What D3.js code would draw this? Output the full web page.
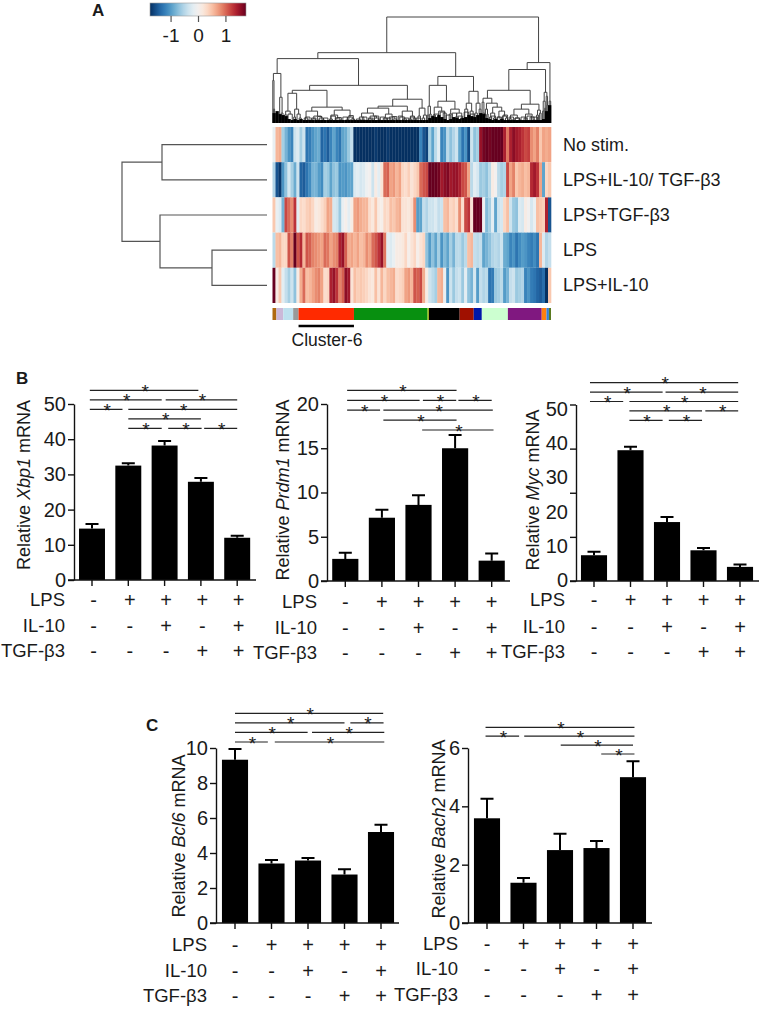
<!DOCTYPE html>
<html>
<head>
<meta charset="utf-8">
<script src="https://cdnjs.cloudflare.com/ajax/libs/d3/7.8.5/d3.min.js"></script>
<style>
  body { margin: 0; background: #fff; }
  text { font-family: "Liberation Sans", Arial, sans-serif; fill: #1a1a1a; }
</style>
</head>
<body>
<svg id="chart" width="761" height="1009"></svg>
<script>
// ---- heatmap values
const rowNames = ['No stim.', 'LPS+IL-10/ TGF-\u03b23', 'LPS+TGF-\u03b23', 'LPS', 'LPS+IL-10'];
const noStim = [-0.1,0.5,0.55,-0.5,-0.7,-0.9,-1,-0.3,-0.2,-0.5,-0.3,-1.1,-1.05,-0.9,-0.8,-0.75,-1.2,-1.1,-1.25,-1,-0.8,-1,-1.1,-0.8,-0.75,-0.55,-0.35,-1.6,-1.75,-1.7,-1.65,
  -1.6,-1.5,-1.6,-1.45,-1.65,-1.55,-1.7,-1.45,-1.65,-1.5,-1.65,-1.7,-1.75,-1.7,-1.65,-1.75,-1.7,-1.65,-1,-1.3,-1.4,-0.5,-0.8,-0.4,-0.15,-1,-0.9,-0.4,-0.6,-0.45,-0.3,
  -0.8,-1.1,-0.9,-1.35,-0.3,-0.6,-0.5,1.3,1.45,1.55,1.45,1.7,1.75,1.7,1.65,1.2,0.8,1.2,1.35,1.25,1.2,1.1,1,1.05,0.7,0.6,0.75,0.4,0.6,0.55,0.6];
const lpsIl10Tgf = [-0.45,-1.3,-1.45,-0.9,-0.6,-0.25,-0.5,-0.75,-0.3,-1.2,-1.25,-1.1,-0.95,-0.7,-0.7,-0.85,-0.95,-0.5,-0.55,-0.8,-0.6,-0.55,-0.9,-0.85,-0.9,-0.8,-0.8,-0.2,-0.15,-0.25,-0.2,
  -0.05,0,-0.3,0.1,-0.15,0.2,0.85,0.9,0.6,0.65,0.5,0.6,0.3,0.25,0.35,0.2,0.3,0.4,0.85,0.95,1,1.5,1.7,1.55,1.45,1.25,1.35,1.4,1.25,1.3,1.3,
  1.2,1,0.95,0.6,-0.4,-0.15,-0.25,-0.55,-0.5,-0.6,-0.4,0.1,0,-0.4,-0.5,-0.45,1,0.6,0.75,0.4,0.5,0.55,0.45,0.5,1.15,1.25,1.1,0.6,-0.8,0.3,0.4];
const lpsTgf = [0.4,-0.1,-0.2,-0.7,1,0.85,0.7,1.1,-0.15,0.3,0.25,0.35,0.4,0.3,0.1,0.15,0.25,0.35,0.6,0.55,-0.25,-0.3,-0.55,-0.1,0.05,-0.15,0.1,0.6,0.65,0.55,0.5,
  0.5,0.25,0.15,0.4,0.1,0.05,0.3,0.25,0.45,0.4,0.5,0.55,0.2,0.2,0.15,0.25,0.7,-0.85,-0.8,-0.35,-0.45,-0.3,-0.3,-0.2,-0.35,-0.3,0.45,0.5,0.3,0.35,0.25,
  0.7,0.25,1,1.1,0.2,1.7,1.75,1.7,-0.05,-0.65,-0.5,-0.15,-0.8,-0.3,-0.25,0.3,0.45,-0.3,-0.55,-0.6,-0.2,-0.25,0.1,0,-0.25,-0.1,0.45,0.4,0.35,1.2,-1.3];
const lpsOnly = [-0.4,0.45,0.5,0.3,0.3,0.95,0.75,1.65,0.95,1.15,0.5,0.95,0.9,0.75,0.7,0.65,0.6,0.85,0.8,0.6,0.7,0.75,1.2,1.3,0.9,0.55,0.6,0.5,0.6,0.45,0.5,
  0.7,0.6,0.85,0.95,1.1,1.3,0.8,-0.15,-0.2,-0.1,0.1,0.1,0.15,0.3,0.05,0.2,0.3,0.05,0.2,0.3,-0.6,-0.85,-0.6,-0.8,-0.5,-0.9,-0.65,-0.8,-0.5,-0.7,-0.4,
  -0.4,-0.55,-0.4,0.45,0.5,-0.35,-0.4,-0.35,-0.8,-0.7,-0.6,-0.45,-0.4,-0.45,-0.3,-0.75,-0.8,-1,-0.9,-1.1,-0.95,-0.85,-0.9,-1,-1.05,-0.95,-1.1,0.5,-0.2,-0.45,-0.35];
const lpsIl10 = [1.6,0.1,0.4,-0.15,-0.35,-0.5,-0.3,-0.6,0.1,0.55,0.85,0.45,0.5,0.6,0.7,0.75,0.6,0.25,0.3,1.2,1.3,1.1,0.75,0.9,1.35,1.25,0.2,0.45,0.35,0.4,0.35,
  0.3,0.2,0.15,0.45,0.2,0.5,0.3,0.45,0.5,0.55,0.25,0.3,0.35,0.6,0.65,0.5,0.95,0.9,1,0.55,0.1,-0.3,-0.4,-0.5,0.5,0.55,-0.1,-0.9,-0.3,-0.55,-0.35,
  -0.3,-0.55,-0.15,-0.6,-0.7,-0.25,-0.85,-0.35,-0.45,-0.4,-1.1,-1.05,-0.55,-0.5,-0.4,-0.85,-0.7,-0.35,-0.3,-0.55,-0.5,-0.45,-1,-0.9,-1.05,-1.1,-1.2,-1.25,-1.15,-1.55,0.4];
const heatRows = [noStim, lpsIl10Tgf, lpsTgf, lpsOnly, lpsIl10];

// cluster strip under the heatmap, widths in columns
const clusterSizes = [1.3,2.3,3.3,1.8,18.5,24.6,0.4,10.3,4.7,2.7,8.7,11.3,1.6,0.8,0.7];
const clusterColors = ['#b06a10','#cbb8d8','#bde0ee','#999999','#ff2a00','#089010','#b0d000','#000000','#a01000','#0018a8','#ccffd0','#801880','#ff8010','#3080e0','#5a7a20'];

// dendrograms: [height, child, child], a bare number is a leaf position
const rowTree = [145, [105, 0, 1], [107, 2, [55, 3, 4]]];
const colTree = [107,
  [71,
    [65,
      [50, [43, 0.1, [14, 0.3, 0.7]], [26, 2.4, [10, 2.9, 3.5]]],
      [38,
        [33,
          [30, [12, [8, 3.9, 4.9], [9, 5.2, 6.6]], [14, [6, 7.1, 7.7], [9, 8.2, [5, 8.9, 9.6]]]],
          [16,
            [12, [5, 10.6, [3, 11.4, 12.2]], [7, [4, 13.2, 14.4], [5, [3, 15.2, 16], [3, 16.6, 17.4]]]],
            [13, [8, [4, 19, 20], [5, 21, [3, 22, 23]]], [6, [3, 24.4, 25.6], [4, 26.2, 27.4]]]]],
        [24,
          [17,
            [15, [10, [6, 29, [3, 30, 31]], [7, [4, 32, 33.2], [5, 34, [3, 35, 36]]]], [9, [5, 37, 38.4], [6, 39, [4, 40.2, 41.5]]]],
            [12, [6, 42.5, [4, 43.5, 44.8]], [7, [4, 45.6, 46.5], [5, 47, 47.8]]]],
          [15, [7, 48.6, 49.4], [8, [5, 50, 50.8], 51.4]]]]],
    [47,
      [38,
        [17, [8, 51.7, 52.2], [9, 52.5, 53]],
        [22,
          [16, [8, 53.6, 54.4], [12, [6, 55, 56], [10, 57, 58]]],
          [14, [9, 59, 60], [10, [6, 61, 62], [5, 62.8, 63.6]]]]],
      [32,
        [20, [14, 64.2, 65.2], [12, 66, 67]],
        [20, [10, 67.6, 68.4], [14, 69, 69.6]]]]],
  [61,
    [54,
      [33,
        [25,
          [21, [9, 69.8, 70.2], [10, 70.4, 70.8]],
          [20, [14, [8, 70.9, 71.3], [9, 71.6, 72]], [16, [10, [6, 72.5, 73.2], [5, 73.8, 74.6]], [12, [6, 75.2, 76], [7, [4, 76.5, 77.2], [5, 77.8, 78.5]]]]]],
        [19,
          [14, [8, [4, 79, 80], [5, 81, [3, 82, 83]]], [9, [5, 84, 85], [6, 86, [3, 87, 87.8]]]],
          [13, [8, 88.2, 88.8], [10, 89.2, 89.7]]]],
      [31, [22, [12, 90.2, 90.6], [15, 90.9, 91.2]], [27, 91.4, [18, 91.7, 92]]]],
    [22, 92.4, 92.9]]];
// height of the solid black leaf comb per column
const leafComb = [10,12,9,8,7,4,3,4,3,4,3,3,3,3,3,3,3,3,3,3,3,3,3,3,3,3,3,3,3,3,3,3,3,3,3,3,3,3,3,3,3,3,3,3,3,3,3,3,3,3,3,3,
  5,7,6,8,6,4,3,4,6,5,4,5,6,8,7,6,8,10,9,5,4,3,4,3,4,3,3,3,3,3,3,3,3,3,3,3,3,3,4,12,18];
// small arches just above the comb: [from column, to column, height]
const lowArches = [[11,12.5,6],[13,14.5,5],[15,16.5,6.5],[17,18.5,5],[19.5,21,7],[21.5,23,5.5],[23.5,25,6],[25.5,27,7.5],[28,29.5,4],[30,31.5,6],[32,33.5,5],[34,35.5,7],[36,37.5,6],[38,39.5,5],[40,41.5,6.5],[42,43.5,7],[44,45.5,5],[46,47.5,6],[48,49.5,5],
  [54,55.5,9],[56,57.5,11],[58,59.5,8],[60,61.5,10],[62,63.5,7],[64,65.5,11],[66,67.5,9],[73,74.5,7],[75,76.5,6],[77,78.5,8],[79,80.5,6],[81,82.5,5],[83,84.5,6],[85,86.5,7],[87,88.5,6]];

const scaleTicks = [-1, 0, 1];

// ---- bar charts
const lpsSigns = ['-', '+', '+', '+', '+'];
const il10Signs = ['-', '-', '+', '-', '+'];
const tgfSigns = ['-', '-', '-', '+', '+'];
const signRowNames = ['LPS', 'IL-10', 'TGF-\u03b23'];

const xbp1Values = [14.6, 32.5, 38.2, 27.9, 12.0];
const xbp1Errors = [1.3, 0.7, 1.3, 1.1, 0.6];
const xbp1Ticks = [0, 10, 20, 30, 40, 50];
// [from group, to group, stacking level]
const xbp1Sig = [[-0.06,2.93,4],[-0.06,1.92,3],[2.03,4,3],[-0.06,0.84,2],[1,4,2],[1,3,1],[1,1.92,0],[2.1,3.02,0],[3.09,4,0]];

const prdm1Values = [2.5, 7.15, 8.6, 15, 2.3];
const prdm1Errors = [0.7, 0.9, 1.1, 1.5, 0.8];
const prdm1Ticks = [0, 5, 10, 15, 20];
const prdm1Sig = [[0.05,3.04,4],[0.05,2.03,3],[2.12,3.03,3],[3.09,4,3],[0.05,0.95,2],[1.04,4.03,2],[1.04,3.04,1],[2.1,4.05,0]];

const mycValues = [7.3, 37.05, 16.7, 8.7, 4.0];
const mycErrors = [1.0, 0.95, 1.4, 0.65, 0.7];
const mycTicks = [0, 12.5, 25, 37.5, 50];
const mycLabels = [0, 10, 20, 30, 40, 50];
const mycSig = [[-0.11,3.95,4],[-0.11,1.88,3],[1.96,3.95,3],[-0.11,0.8,2],[0.97,3.95,2],[0.97,2.96,1],[3.05,3.95,1],[0.97,1.88,0],[2.05,2.96,0]];

const bcl6Values = [9.33, 3.4, 3.57, 2.77, 5.2];
const bcl6Errors = [0.61, 0.2, 0.15, 0.3, 0.42];
const bcl6Ticks = [0, 2, 4, 6, 8, 10];
const bcl6Sig = [[0,4.06,3],[0,3,2],[3.16,4.07,2],[0,1.99,1],[2.11,4.09,1],[0,0.9,0],[1.09,4.09,0]];

const bach2Values = [3.59, 1.38, 2.5, 2.57, 5.0];
const bach2Errors = [0.67, 0.16, 0.56, 0.24, 0.55];
const bach2Ticks = [0, 2, 4, 6];
const bach2Sig = [[-0.04,4.04,3],[-0.04,0.88,2],[1.02,4.04,2],[2.02,4,1],[3.13,4.04,0]];

const svg = d3.select('#chart');

// the key runs to +-1.75, the cells read stronger so they saturate a bit earlier
const rdbu = t => d3.interpolateRdBu(1 - t);
const keyColour = d3.scaleSequential(rdbu).domain([-1.75, 1.75]);
const colour = d3.scaleSequential(rdbu).domain([-1.5, 1.5]).clamp(true);

function panelLetter(letter, x, y) {
  svg.append('text').attr('x', x).attr('y', y)
    .style('font-size', '17px').style('font-weight', 'bold').text(letter);
}

panelLetter('A', 92, 16);
panelLetter('B', 16, 384);
panelLetter('C', 146, 731);

// ---- colour key
const keyX = d3.scaleLinear().domain([-1.75, 1.75]).range([150, 246]);
const grad = svg.append('defs').append('linearGradient').attr('id', 'keyGrad');
grad.selectAll('stop').data(d3.range(0, 1.001, 0.05)).enter().append('stop')
  .attr('offset', d => d)
  .attr('stop-color', d => keyColour(-1.75 + d * 3.5));
svg.append('rect').attr('x', 150).attr('y', 3).attr('width', 96).attr('height', 13)
  .attr('fill', 'url(#keyGrad)').attr('stroke', '#999').attr('stroke-width', 0.6);
const keyAxis = svg.append('g').attr('transform', 'translate(0,16)')
  .call(d3.axisBottom(keyX).tickValues(scaleTicks).tickSize(6).tickPadding(7).tickFormat(d => String(d)));
keyAxis.select('.domain').remove();
keyAxis.selectAll('line').attr('stroke', '#555').attr('stroke-width', 1.2);
keyAxis.selectAll('text').style('font-size', '19px');

// ---- heatmap
const colX = d3.scaleLinear().domain([0, noStim.length]).range([272.5, 551]);
const rowY = d3.scaleBand().domain(d3.range(rowNames.length)).range([127, 303]);

svg.append('g').selectAll('g')
  .data(heatRows)
  .enter()
  .append('g')
  .attr('transform', (d, i) => `translate(0,${rowY(i)})`)
  .selectAll('rect')
  .data(d => d)
  .enter()
  .append('rect')
  .attr('x', (d, i) => colX(i))
  .attr('width', (d, i) => colX(i + 1) - colX(i) + 0.3)
  .attr('height', rowY.bandwidth())
  .attr('fill', d => colour(d));

svg.append('g').selectAll('text')
  .data(rowNames)
  .enter()
  .append('text')
  .attr('x', 563)
  .attr('y', (d, i) => rowY(i) + rowY.bandwidth() / 2 + 6)
  .style('font-size', '18px')
  .text(d => d);

// cluster strip
const clusterEnds = Array.from(d3.cumsum(clusterSizes));
svg.append('g').selectAll('rect')
  .data(clusterSizes)
  .enter()
  .append('rect')
  .attr('x', (d, i) => colX(clusterEnds[i] - d))
  .attr('y', 308)
  .attr('width', d => colX(d) - colX(0))
  .attr('height', 12)
  .attr('fill', (d, i) => clusterColors[i]);

// cluster-6 marker is the red block (index 4)
svg.append('line')
  .attr('x1', colX(clusterEnds[4] - clusterSizes[4])).attr('x2', colX(clusterEnds[4]))
  .attr('y1', 326).attr('y2', 326)
  .attr('stroke', '#000').attr('stroke-width', 2.5);
svg.append('text').attr('x', 327).attr('y', 346).attr('text-anchor', 'middle')
  .style('font-size', '17.5px').text('Cluster-6');

// ---- dendrograms
function layoutTree(tree) {
  const root = d3.hierarchy(tree, d => Array.isArray(d) ? d.slice(1) : null);
  root.eachAfter(n => {
    if (n.children) {
      n.pos = (n.children[0].pos + n.children[1].pos) / 2;
      n.h = n.data[0];
    } else {
      n.pos = n.data;
      n.h = 0;
    }
  });
  return root;
}

const colHeight = d3.scaleLinear().domain([0, 107]).range([123, 17]);
const colRoot = layoutTree(colTree);
svg.append('g').selectAll('path')
  .data(colRoot.descendants().filter(n => n.children))
  .enter()
  .append('path')
  .attr('fill', 'none')
  .attr('stroke', '#444')
  .attr('stroke-width', 1)
  .attr('d', n => {
    const [a, b] = n.children;
    return `M${colX(a.pos)},${colHeight(a.h)}V${colHeight(n.h)}H${colX(b.pos)}V${colHeight(b.h)}`;
  });

svg.append('g').selectAll('path')
  .data(lowArches)
  .enter()
  .append('path')
  .attr('fill', 'none')
  .attr('stroke', '#333')
  .attr('stroke-width', 0.9)
  .attr('d', d => `M${colX(d[0])},${colHeight(0)}V${colHeight(d[2])}H${colX(d[1])}V${colHeight(0)}`);

svg.append('g').selectAll('rect')
  .data(leafComb)
  .enter()
  .append('rect')
  .attr('x', (d, i) => colX(i))
  .attr('y', d => colHeight(d))
  .attr('width', (d, i) => colX(i + 1) - colX(i) + 0.3)
  .attr('height', d => colHeight(0) - colHeight(d))
  .attr('fill', '#000');

const rowHeight = d3.scaleLinear().domain([0, 145]).range([267, 122]);
const rowRoot = layoutTree(rowTree);
const rowMid = i => rowY(i) + rowY.bandwidth() / 2;
rowRoot.eachAfter(n => { n.y = n.children ? (n.children[0].y + n.children[1].y) / 2 : rowMid(n.pos); });
svg.append('g').selectAll('path')
  .data(rowRoot.descendants().filter(n => n.children))
  .enter()
  .append('path')
  .attr('fill', 'none')
  .attr('stroke', '#555')
  .attr('stroke-width', 1.2)
  .attr('d', n => {
    const [a, b] = n.children;
    return `M${rowHeight(a.h)},${a.y}H${rowHeight(n.h)}V${b.y}H${rowHeight(b.h)}`;
  });

// ---- one bar panel
function barPanel(p) {
  const x = d3.scaleBand().domain(d3.range(5))
    .range([p.first - p.step / 2, p.first + 4.5 * p.step])
    .paddingInner(0.285).paddingOuter(0.1425);
  const centre = d3.scaleLinear().domain([0, 4]).range([p.first, p.first + 4 * p.step]);
  const y = d3.scaleLinear().domain([0, p.max]).range([p.y0, p.y1]);
  const g = svg.append('g');

  // bars
  g.selectAll('.bar')
    .data(p.values)
    .enter()
    .append('rect')
    .attr('class', 'bar')
    .attr('x', (d, i) => x(i))
    .attr('y', d => y(d))
    .attr('width', x.bandwidth())
    .attr('height', d => y(0) - y(d))
    .attr('fill', '#000');

  // error bars, top side only
  g.selectAll('.err')
    .data(p.values)
    .enter()
    .append('path')
    .attr('class', 'err')
    .attr('fill', 'none')
    .attr('stroke', '#000')
    .attr('stroke-width', 2)
    .attr('d', (d, i) => {
      const c = centre(i);
      const top = y(d + p.errors[i]);
      return `M${c},${y(d)}V${top}M${c - 6.5},${top}H${c + 6.5}`;
    });

  // eje x
  const xAxis = g.append('g')
    .attr('transform', `translate(0,${p.y0})`)
    .call(d3.axisBottom(x).tickSize(6).tickSizeOuter(0).tickFormat(''));
  xAxis.select('.domain').attr('d', `M${p.axisX - 6},0H${p.axisEnd}`);

  // eje y
  const yAxis = g.append('g')
    .attr('transform', `translate(${p.axisX},0)`)
    .call(d3.axisLeft(y).tickValues(p.ticks).tickSize(6).tickSizeOuter(0).tickPadding(2)
      .tickFormat(p.labels ? '' : d => d));
  yAxis.selectAll('text').style('font-size', '20px');
  g.selectAll('.domain, .tick line').attr('stroke', '#111').attr('stroke-width', 1.4);

  // Myc labels do not sit on its ticks
  if (p.labels) {
    const labelY = d3.scaleLinear().domain([0, 50]).range([p.y0 - 1, 409]);
    g.append('g').selectAll('text')
      .data(p.labels)
      .enter()
      .append('text')
      .attr('x', p.axisX - 8)
      .attr('y', d => labelY(d))
      .attr('dy', '0.35em')
      .attr('text-anchor', 'end')
      .style('font-size', '20px')
      .text(d => d);
  }

  // axis title with the gene in italics
  const title = g.append('text')
    .attr('transform', `translate(${p.titleX},${p.titleY}) rotate(-90)`)
    .attr('text-anchor', 'middle')
    .style('font-size', '18px')
    .attr('xml:space', 'preserve');
  title.append('tspan').text('Relative ');
  title.append('tspan').style('font-style', 'italic').text(p.gene);
  title.append('tspan').text(' mRNA');

  // +/- rows
  [lpsSigns, il10Signs, tgfSigns].forEach((row, r) => {
    g.append('text')
      .attr('x', p.rowRight)
      .attr('y', p.rowY[r])
      .attr('dy', '0.35em')
      .attr('text-anchor', 'end')
      .style('font-size', '18.5px')
      .text(signRowNames[r]);
    g.selectAll(null)
      .data(row)
      .enter()
      .append('text')
      .attr('x', (d, i) => centre(i) + p.signDx)
      .attr('y', p.rowY[r])
      .attr('dy', '0.35em')
      .attr('text-anchor', 'middle')
      .style('font-size', '20px')
      .text(d => d);
  });

  // significance lines and stars
  const sigY = level => p.sigBase - level * p.sigStep;
  g.selectAll('.sig')
    .data(p.sig)
    .enter()
    .append('line')
    .attr('class', 'sig')
    .attr('x1', d => centre(d[0]))
    .attr('x2', d => centre(d[1]))
    .attr('y1', d => sigY(d[2]))
    .attr('y2', d => sigY(d[2]))
    .attr('stroke', '#222')
    .attr('stroke-width', 1.2);
  g.selectAll('.star')
    .data(p.sig)
    .enter()
    .append('text')
    .attr('class', 'star')
    .attr('x', d => centre((d[0] + d[1]) / 2) + 1)
    .attr('y', d => sigY(d[2]) + 7.5)
    .attr('text-anchor', 'middle')
    .style('font-size', '19px')
    .text('*');
}

barPanel({ gene: 'Xbp1', values: xbp1Values, errors: xbp1Errors, ticks: xbp1Ticks, max: 50, sig: xbp1Sig,
  first: 92, step: 36.3, y0: 580, y1: 404, axisX: 74, axisEnd: 256, titleX: 30, titleY: 485,
  rowRight: 65, rowY: [600, 626, 651], signDx: 1.5, sigBase: 428.3, sigStep: 9.5 });
barPanel({ gene: 'Prdm1', values: prdm1Values, errors: prdm1Errors, ticks: prdm1Ticks, max: 20, sig: prdm1Sig,
  first: 345.3, step: 36.6, y0: 581, y1: 404, axisX: 327, axisEnd: 510, titleX: 289, titleY: 490,
  rowRight: 317, rowY: [602, 628, 653], signDx: 0, sigBase: 430, sigStep: 9.9 });
barPanel({ gene: 'Myc', values: mycValues, errors: mycErrors, ticks: mycTicks, max: 50, labels: mycLabels, sig: mycSig,
  first: 594, step: 36.5, y0: 581, y1: 404.5, axisX: 576, axisEnd: 759, titleX: 539, titleY: 490,
  rowRight: 565, rowY: [600, 627, 652], signDx: 0, sigBase: 420.3, sigStep: 9.4 });
barPanel({ gene: 'Bcl6', values: bcl6Values, errors: bcl6Errors, ticks: bcl6Ticks, max: 10, sig: bcl6Sig,
  first: 235, step: 36.5, y0: 923, y1: 748, axisX: 216, axisEnd: 399, titleX: 185, titleY: 836,
  rowRight: 207, rowY: [945, 971, 996], signDx: 0, sigBase: 742, sigStep: 9.55 });
barPanel({ gene: 'Bach2', values: bach2Values, errors: bach2Errors, ticks: bach2Ticks, max: 6, sig: bach2Sig,
  first: 487, step: 36.5, y0: 923, y1: 748, axisX: 468, axisEnd: 652, titleX: 445, titleY: 829,
  rowRight: 458, rowY: [944, 969, 995], signDx: 0, sigBase: 754, sigStep: 8.9 });
</script>
</body>
</html>
